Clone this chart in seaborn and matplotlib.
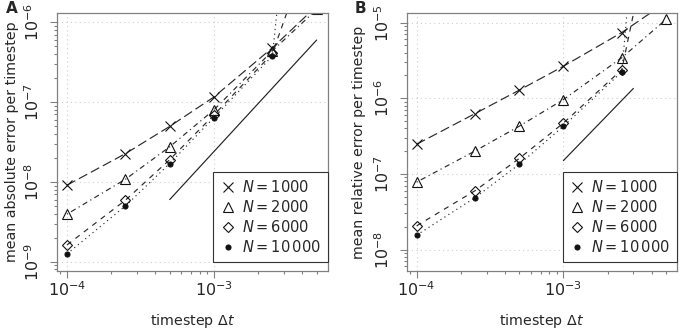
import numpy as np
import pandas as pd
import seaborn as sns
import matplotlib.pyplot as plt
from matplotlib.lines import Line2D
from matplotlib.ticker import LogLocator, NullFormatter

sns.set_style("white")
plt.rcParams['font.family'] = ['DejaVu Sans']
plt.rcParams['mathtext.fontset'] = 'dejavusans'

# timesteps
dt = [1e-4, 2.5e-4, 5e-4, 1e-3, 2.5e-3, 5e-3]
labels = [r"$N = 1000$", r"$N = 2000$", r"$N = 6000$", r"$N = 10\,000$"]

# panel A: mean absolute error per timestep
abs_n1000 = [9.1e-9, 2.26e-8, 4.96e-8, 1.16e-7, 4.8e-7, 1.6e-6]
abs_n2000 = [3.94e-9, 1.08e-8, 2.75e-8, 8.0e-8, 4.4e-7, 1.45e-6]
abs_n6000 = [1.62e-9, 5.9e-9, 1.9e-8, 6.9e-8, 4.07e-7, 1.5e-5]
abs_n10000 = [1.25e-9, 5.0e-9, 1.7e-8, 6.4e-8, 3.8e-7, 1e-1]

# panel B: mean relative error per timestep
rel_n1000 = [2.47e-7, 6.27e-7, 1.28e-6, 2.65e-6, 7.4e-6, 1.85e-5]
rel_n2000 = [7.8e-8, 2.01e-7, 4.27e-7, 9.6e-7, 3.44e-6, 1.1e-5]
rel_n6000 = [2.06e-8, 6.0e-8, 1.6e-7, 4.7e-7, 2.39e-6, 1.5e-3]
rel_n10000 = [1.55e-8, 4.86e-8, 1.34e-7, 4.27e-7, 2.23e-6, 1e1]

# reference slope-2 lines
ref_a_x = [5e-4, 5e-3]
ref_a_y = [6e-9, 6e-7]
ref_b_x = [1e-3, 3e-3]
ref_b_y = [1.5e-7, 1.35e-6]

markers = ['x', '^', 'D', 'o']
msizes = [6.5, 7.5, 5.5, 3.6]
fills = ['none', 'none', 'none', '#111111']
dashes = [(0, (8, 3.5)), (0, (1, 3, 4.5, 3)), (0, (4.5, 4.5)), (0, (1, 3))]
lc = '#2a2a2a'
frame = '#808080'

fig = plt.figure(figsize=(6.8, 3.31), dpi=100)
axA = fig.add_axes([0.0838, 0.1813, 0.3985, 0.7794])
axB = fig.add_axes([0.598, 0.1813, 0.398, 0.7794])


def draw(ax, series, ref_x, ref_y, ylim, ylabel, ylab_x):
    ax.set_xscale('log')
    ax.set_yscale('log')
    for i, ys in enumerate(series):
        df = pd.DataFrame({"dt": dt, "err": ys})
        sns.lineplot(data=df, x="dt", y="err", ax=ax, color=lc, lw=0.85,
                     linestyle=dashes[i], marker=markers[i], markersize=msizes[i],
                     markerfacecolor=fills[i], markeredgecolor='#111111',
                     markeredgewidth=0.8)
    sns.lineplot(x=ref_x, y=ref_y, ax=ax, color='#222222', lw=0.85)
    ax.set_xlim(8.55e-5, 5.97e-3)
    ax.set_ylim(*ylim)
    ax.set_xlabel(r"timestep $\Delta t$", fontsize=10.3)
    ax.set_ylabel(ylabel, fontsize=10.2)
    ax.xaxis.set_label_coords(0.5, -0.16)
    ax.yaxis.set_label_coords(ylab_x, 0.5)
    ax.xaxis.set_major_locator(LogLocator(base=10, numticks=10))
    ax.yaxis.set_major_locator(LogLocator(base=10, numticks=10))
    ax.xaxis.set_minor_locator(LogLocator(base=10, subs=np.arange(2, 10), numticks=10))
    ax.yaxis.set_minor_locator(LogLocator(base=10, subs=np.arange(2, 10), numticks=10))
    ax.xaxis.set_minor_formatter(NullFormatter())
    ax.yaxis.set_minor_formatter(NullFormatter())
    ax.tick_params(which='major', direction='out', length=5, width=0.8, color=frame,
                   labelsize=11.5, bottom=True, left=True)
    ax.tick_params(axis='x', which='major', pad=1.5)
    ax.tick_params(axis='y', which='major', pad=5.5)
    ax.tick_params(which='minor', direction='out', length=2.5, width=0.8, color=frame,
                   bottom=True, left=True)
    for lab in ax.get_yticklabels():
        lab.set_rotation(90)
        lab.set_va('center')
    ax.grid(True, which='major', color='#cccccc', linestyle=(0, (1, 3)), lw=0.8)
    for s in ax.spines.values():
        s.set_color(frame)
        s.set_linewidth(0.9)
    handles = [Line2D([], [], linestyle='none', marker=markers[i], markersize=msizes[i],
                      markerfacecolor=fills[i], markeredgecolor='#111111',
                      markeredgewidth=0.8) for i in range(4)]
    leg = ax.legend(handles, labels, loc='lower right', bbox_to_anchor=(1.0, 0.035),
                    borderaxespad=0, fancybox=False, frameon=True, fontsize=10.5,
                    handlelength=1.0, handletextpad=0.45, labelspacing=0.27,
                    borderpad=0.5)
    leg.get_frame().set_edgecolor('#333333')
    leg.get_frame().set_linewidth(0.8)
    leg.get_frame().set_alpha(1)


draw(axA, [abs_n1000, abs_n2000, abs_n6000, abs_n10000], ref_a_x, ref_a_y,
     (10 ** -9.117, 10 ** -5.883), "mean absolute error per timestep", -0.14)
draw(axB, [rel_n1000, rel_n2000, rel_n6000, rel_n10000], ref_b_x, ref_b_y,
     (10 ** -8.283, 10 ** -4.873), "mean relative error per timestep", -0.15)

fig.text(0.008, 0.998, "A", fontsize=11, fontweight='bold', va='top', ha='left')
fig.text(0.522, 0.998, "B", fontsize=11, fontweight='bold', va='top', ha='left')

fig.savefig("out.png", dpi=100)
